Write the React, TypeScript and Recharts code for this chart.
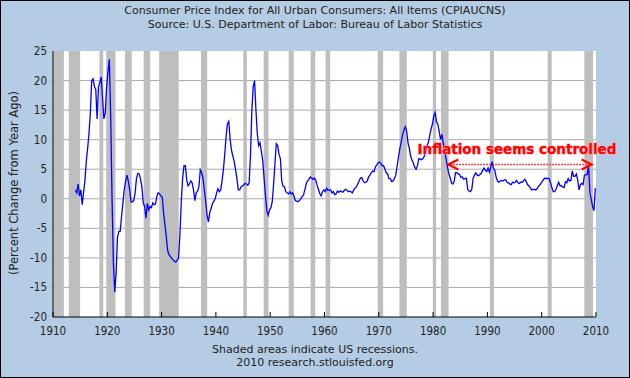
import React from "react";
import {
  LineChart,
  Line,
  XAxis,
  YAxis,
  CartesianGrid,
  ReferenceArea,
  ReferenceLine,
} from "recharts";

const FONT = "'DejaVu Sans', sans-serif";
const TICK_FONT = "'DejaVu Sans Condensed', 'DejaVu Sans', sans-serif";

const xTicks = [1910, 1920, 1930, 1940, 1950, 1960, 1970, 1980, 1990, 2000, 2010];
const yTicks = [-20, -15, -10, -5, 0, 5, 10, 15, 20, 25];
const gridLines = [-15, -10, -5, 0, 5, 10, 15, 20];

// NBER recessions (decimal years)
const recessionStart = [1910.08, 1912.9, 1918.55, 1919.8, 1923.25, 1926.7, 1929.55, 1937.25, 1945.05, 1948.8, 1953.4, 1957.45, 1960.2, 1969.8, 1973.8, 1979.95, 1981.45, 1990.45, 2001.1, 2007.85];
const recessionEnd = [1912.0, 1915.0, 1919.25, 1921.5, 1924.5, 1927.9, 1933.15, 1938.4, 1945.7, 1949.7, 1954.35, 1958.3, 1961.05, 1970.8, 1975.15, 1980.55, 1982.85, 1991.2, 2001.85, 2009.45];

// CPI, percent change from a year ago, quarterly readings
const cpi1910s = [
  1.5, 1.0, 2.5, 0.5, // 1914
  1.5, -1.0, 1.0, 3.0,
  6.3, 8.5, 11.0, 14.5,
  20.0, 20.3, 19.0, 18.5,
  13.5, 18.9, 19.7, 20.6,
  17.0, 13.5, 14.5, 19.0,
];
const cpi1920s = [
  21.5, 23.6, 14.0, 0.0,
  -11.0, -15.8, -12.5, -6.5,
  -5.5, -5.5, -3.0, -0.7,
  1.5, 3.0, 4.0, 3.0,
  1.5, -0.5, -0.5, -0.3,
  1.0, 3.5, 4.3, 4.2,
  3.3, 2.0, -0.7, -1.3,
  -3.3, -0.8, -1.9, -1.3,
  -1.5, -0.7, -1.0, -0.9,
  0.4, 1.0, 0.8, 0.5,
];
const cpi1930s = [
  0.2, -2.5, -4.5, -6.5,
  -8.8, -9.5, -9.8, -10.1,
  -10.3, -10.6, -10.7, -10.4,
  -10.0, -6.0, -0.5, 3.5,
  5.6, 5.6, 3.2, 2.2,
  2.5, 3.0, 2.7, 1.5,
  -0.3, 1.0, 1.3, 2.0,
  4.9, 4.4, 3.5, 1.5,
  -0.5, -2.8, -3.9, -2.3,
  -1.6, -0.8, -0.4, 0.0,
];
const cpi1940s = [
  1.0, 1.7, 1.2, 1.5,
  3.0, 4.9, 7.5, 10.5,
  12.7, 13.1, 10.0, 8.2,
  7.2, 6.3, 4.9, 3.4,
  1.5, 1.5, 2.0, 2.2,
  2.3, 2.6, 2.5, 2.3,
  2.7, 7.5, 15.0, 19.0,
  20.0, 15.0, 11.0, 9.0,
  9.5, 8.0, 6.5, 3.5,
  0.5, -2.0, -2.8, -1.9,
];
const cpi1950s = [
  -1.5, -0.5, 2.5, 6.0,
  9.3, 9.0, 7.5, 6.8,
  3.0, 2.1, 2.0, 1.2,
  1.0, 0.8, 1.2, 0.8,
  1.0, 0.5, -0.3, -0.4,
  -0.5, -0.3, 0.0, 0.4,
  0.6, 1.5, 2.5, 3.0,
  3.3, 3.7, 3.5, 3.3,
  3.5, 3.2, 2.3, 1.6,
  0.9, 0.5, 1.2, 1.5,
];
const cpi1960s = [
  1.2, 1.8, 1.4, 1.5,
  1.5, 1.0, 1.2, 0.7,
  0.8, 1.3, 1.1, 1.3,
  1.2, 1.1, 1.4, 1.6,
  1.5, 1.2, 1.3, 1.2,
  1.0, 1.5, 1.8, 2.0,
  2.5, 3.0, 3.5, 3.6,
  3.0, 2.7, 2.8, 3.0,
  3.7, 4.0, 4.4, 4.7,
  4.6, 5.4, 5.7, 6.1,
];
const cpi1970s = [
  6.2, 6.0, 5.6, 5.6,
  5.0, 4.4, 4.2, 3.4,
  3.4, 2.9, 3.0, 3.4,
  4.0, 5.5, 7.0, 8.5,
  9.6, 10.8, 11.6, 12.2,
  11.5, 9.5, 8.5, 7.2,
  6.5, 6.0, 5.3, 5.0,
  5.6, 6.8, 6.7, 6.6,
  6.8, 7.2, 8.0, 9.0,
  9.5, 10.7, 11.8, 12.6,
];
const cpi1980s = [
  14.0, 14.6, 13.0, 12.6,
  11.4, 10.0, 10.9, 9.4,
  8.0, 6.8, 5.5, 4.3,
  3.6, 2.7, 2.5, 2.9,
  4.4, 4.4, 4.2, 4.1,
  3.6, 3.7, 3.3, 3.4,
  3.5, 1.6, 1.3, 1.2,
  1.6, 3.5, 4.0, 4.4,
  4.0, 3.9, 4.1, 4.3,
  4.8, 5.2, 4.8, 4.6,
];
const cpi1990s = [
  5.2, 4.5, 5.4, 6.3,
  5.2, 4.8, 3.6, 3.0,
  2.8, 3.0, 3.1, 3.0,
  3.2, 3.2, 2.8, 2.7,
  2.5, 2.4, 2.8, 2.7,
  2.8, 3.1, 2.7, 2.6,
  2.8, 2.8, 3.0, 3.3,
  3.0, 2.4, 2.2, 1.9,
  1.5, 1.6, 1.6, 1.5,
  1.7, 2.1, 2.3, 2.6,
];
const cpi2000s = [
  3.0, 3.3, 3.5, 3.4,
  3.5, 3.4, 2.7, 1.9,
  1.2, 1.2, 1.6, 2.2,
  2.8, 2.2, 2.2, 2.0,
  1.9, 2.9, 2.7, 3.4,
  3.0, 3.1, 4.7, 3.8,
  3.8, 4.2, 3.2, 1.5,
  2.4, 2.6, 2.4, 4.0,
  4.1, 4.1, 5.6, 1.1,
  -0.1, -1.3, -2.0, 1.8,
];

const decades = [
  { from: 1914, values: cpi1910s },
  { from: 1920, values: cpi1920s },
  { from: 1930, values: cpi1930s },
  { from: 1940, values: cpi1940s },
  { from: 1950, values: cpi1950s },
  { from: 1960, values: cpi1960s },
  { from: 1970, values: cpi1970s },
  { from: 1980, values: cpi1980s },
  { from: 1990, values: cpi1990s },
  { from: 2000, values: cpi2000s },
];

const data = decades.flatMap((d) =>
  d.values.map((v, i) => ({ year: d.from + i / 4 + 0.125, pct: v }))
);

// annotation arrow span
const arrowFrom = { year: 1982.8, pct: 5.8 };
const arrowTo = { year: 2009.2, pct: 5.8 };

function YearTick({ x, y, payload }: any) {
  return (
    <g>
      <line x1={x} x2={x} y1={y} y2={y - 5} stroke="#000" />
      <text x={x} y={y + 18} textAnchor="middle" fontSize={11.5} fill="#222" fontFamily={TICK_FONT}>
        {payload.value}
      </text>
    </g>
  );
}

function PctTick({ x, y, payload }: any) {
  return (
    <text x={x} y={y + 4} textAnchor="end" fontSize={11.5} fill="#222" fontFamily={TICK_FONT}>
      {payload.value}
    </text>
  );
}

function DottedArrow(props: any) {
  const { x1, y1, x2, y2 } = props;
  const h = 5;
  return (
    <g>
      <line x1={x1 + 2} y1={y1} x2={x2 - 2} y2={y2} stroke="#ff0000" strokeWidth={1.5} strokeDasharray="1.5 1.5" />
      <polyline
        points={`${x1 + h * 2},${y1 - h} ${x1},${y1} ${x1 + h * 2},${y1 + h}`}
        fill="none"
        stroke="#ff0000"
        strokeWidth={2.2}
      />
      <polyline
        points={`${x2 - h * 2},${y2 - h} ${x2},${y2} ${x2 - h * 2},${y2 + h}`}
        fill="none"
        stroke="#ff0000"
        strokeWidth={2.2}
      />
    </g>
  );
}

export default function App() {
  return (
    <div style={{ position: "relative", width: 630, height: 378, background: "#b4cde5", fontFamily: FONT, color: "#222" }}>
      <style>{`body{margin:0}`}</style>
      <div style={{ position: "absolute", top: 4, left: 0, width: 630, textAlign: "center", fontSize: 11, lineHeight: "14px" }}>
        Consumer Price Index for All Urban Consumers: All Items (CPIAUCNS)
      </div>
      <div style={{ position: "absolute", top: 18, left: 0, width: 630, textAlign: "center", fontSize: 11, lineHeight: "14px" }}>
        Source: U.S. Department of Labor: Bureau of Labor Statistics
      </div>
      <div
        style={{
          position: "absolute",
          left: 14,
          top: 183,
          transform: "translate(-50%, -50%) rotate(-90deg)",
          whiteSpace: "nowrap",
          fontSize: 11.5,
          lineHeight: "14px",
        }}
      >
        (Percent Change from Year Ago)
      </div>
      <div style={{ position: "absolute", top: 344, left: 0, width: 630, textAlign: "center", fontSize: 11, lineHeight: "12px" }}>
        Shaded areas indicate US recessions.
      </div>
      <div style={{ position: "absolute", top: 357, left: 0, width: 630, textAlign: "center", fontSize: 11, lineHeight: "12px" }}>
        2010 research.stlouisfed.org
      </div>
      <div style={{ position: "absolute", top: 0, left: 0 }}>
        <LineChart width={630} height={378} data={data} margin={{ top: 51, right: 34, bottom: 41, left: 8 }}>
          <CartesianGrid fill="#ffffff" stroke="#aaaaaa" vertical={false} horizontalValues={gridLines} />
          {recessionStart.map((s, i) => (
            <ReferenceArea key={s} x1={s} x2={recessionEnd[i]} fill="#bebebe" fillOpacity={1} stroke="none" />
          ))}
          <XAxis
            dataKey="year"
            type="number"
            domain={[1910, 2010]}
            ticks={xTicks}
            height={20}
            stroke="#000"
            tickLine={false}
            tickSize={0}
            tickMargin={0}
            tick={<YearTick />}
            allowDataOverflow
          />
          <YAxis
            type="number"
            domain={[-20, 25]}
            ticks={yTicks}
            width={45}
            stroke="#000"
            tickLine={false}
            tickSize={4}
            tickMargin={2}
            tick={<PctTick />}
            allowDataOverflow
          />
          <Line
            dataKey="pct"
            type="linear"
            stroke="#0000ff"
            strokeWidth={1.3}
            dot={false}
            isAnimationActive={false}
          />
          <ReferenceLine
            segment={[
              { x: arrowFrom.year, y: arrowFrom.pct },
              { x: arrowTo.year, y: arrowTo.pct },
            ]}
            shape={DottedArrow}
            label={{
              value: "Inflation seems controlled",
              position: "top",
              offset: 10,
              dx: -3,
              fill: "#ff0000",
              fontSize: 13.5,
              fontWeight: "bold",
              fontFamily: FONT,
              stroke: "#ff9a9a",
              strokeWidth: 1,
              paintOrder: "stroke",
            }}
          />
        </LineChart>
      </div>
      <div style={{ position: "absolute", inset: 0, border: "1px solid #000", pointerEvents: "none" }} />
    </div>
  );
}
